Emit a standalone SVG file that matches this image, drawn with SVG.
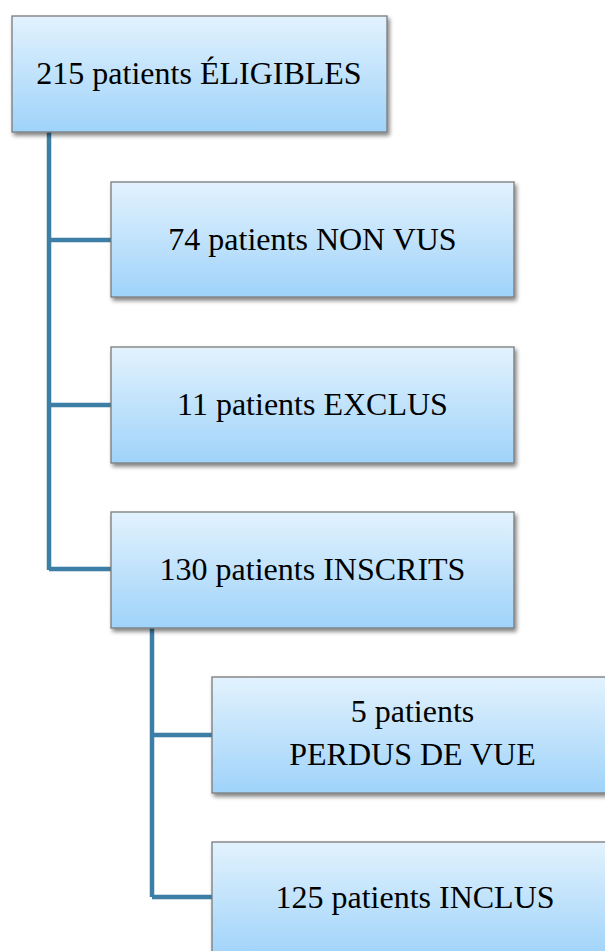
<svg xmlns="http://www.w3.org/2000/svg" width="605" height="951" viewBox="0 0 605 951">
<style>
.box{fill:url(#g);stroke:#7a7a7a;stroke-width:1.3;filter:url(#sh)}
.t{font-family:"Liberation Serif","Times New Roman",serif;font-size:32px;fill:#000;text-anchor:middle}
.c{stroke:#3d7ea6;stroke-width:4.5;fill:none}
</style>
<defs>
<linearGradient id="g" x1="0" y1="0" x2="0" y2="1">
<stop offset="0" stop-color="#e2f2fd"/>
<stop offset="1" stop-color="#9fd3fa"/>
</linearGradient>
<filter id="sh" x="-10%" y="-10%" width="125%" height="130%">
<feGaussianBlur in="SourceAlpha" stdDeviation="2"/>
<feOffset dx="2" dy="3" result="b"/>
<feComponentTransfer><feFuncA type="linear" slope="0.5"/></feComponentTransfer>
<feMerge><feMergeNode/><feMergeNode in="SourceGraphic"/></feMerge>
</filter>
</defs>
<g id="connectors">
<path class="c" d="M49 132V570M49 240H111M49 405H111M49 569H111"/>
<path class="c" d="M152 628V897M152 735H212M152 897H212"/>
</g>
<g id="n1"><rect class="box" x="12" y="16" width="375" height="116"/><text class="t" x="199" y="83.5">215 patients ÉLIGIBLES</text></g>
<g id="n2"><rect class="box" x="111" y="182" width="403" height="115"/><text class="t" x="312.5" y="250">74 patients NON VUS</text></g>
<g id="n3"><rect class="box" x="111" y="347" width="403" height="116"/><text class="t" x="312.5" y="415">11 patients EXCLUS</text></g>
<g id="n4"><rect class="box" x="111" y="512" width="403" height="116"/><text class="t" x="312.5" y="580">130 patients INSCRITS</text></g>
<g id="n5"><rect class="box" x="212" y="677" width="402" height="116"/><text class="t" x="412.5" y="722">5 patients</text><text class="t" x="412.5" y="765">PERDUS DE VUE</text></g>
<g id="n6"><rect class="box" x="212" y="842" width="402" height="116"/><text class="t" x="415" y="908">125 patients INCLUS</text></g>
</svg>
